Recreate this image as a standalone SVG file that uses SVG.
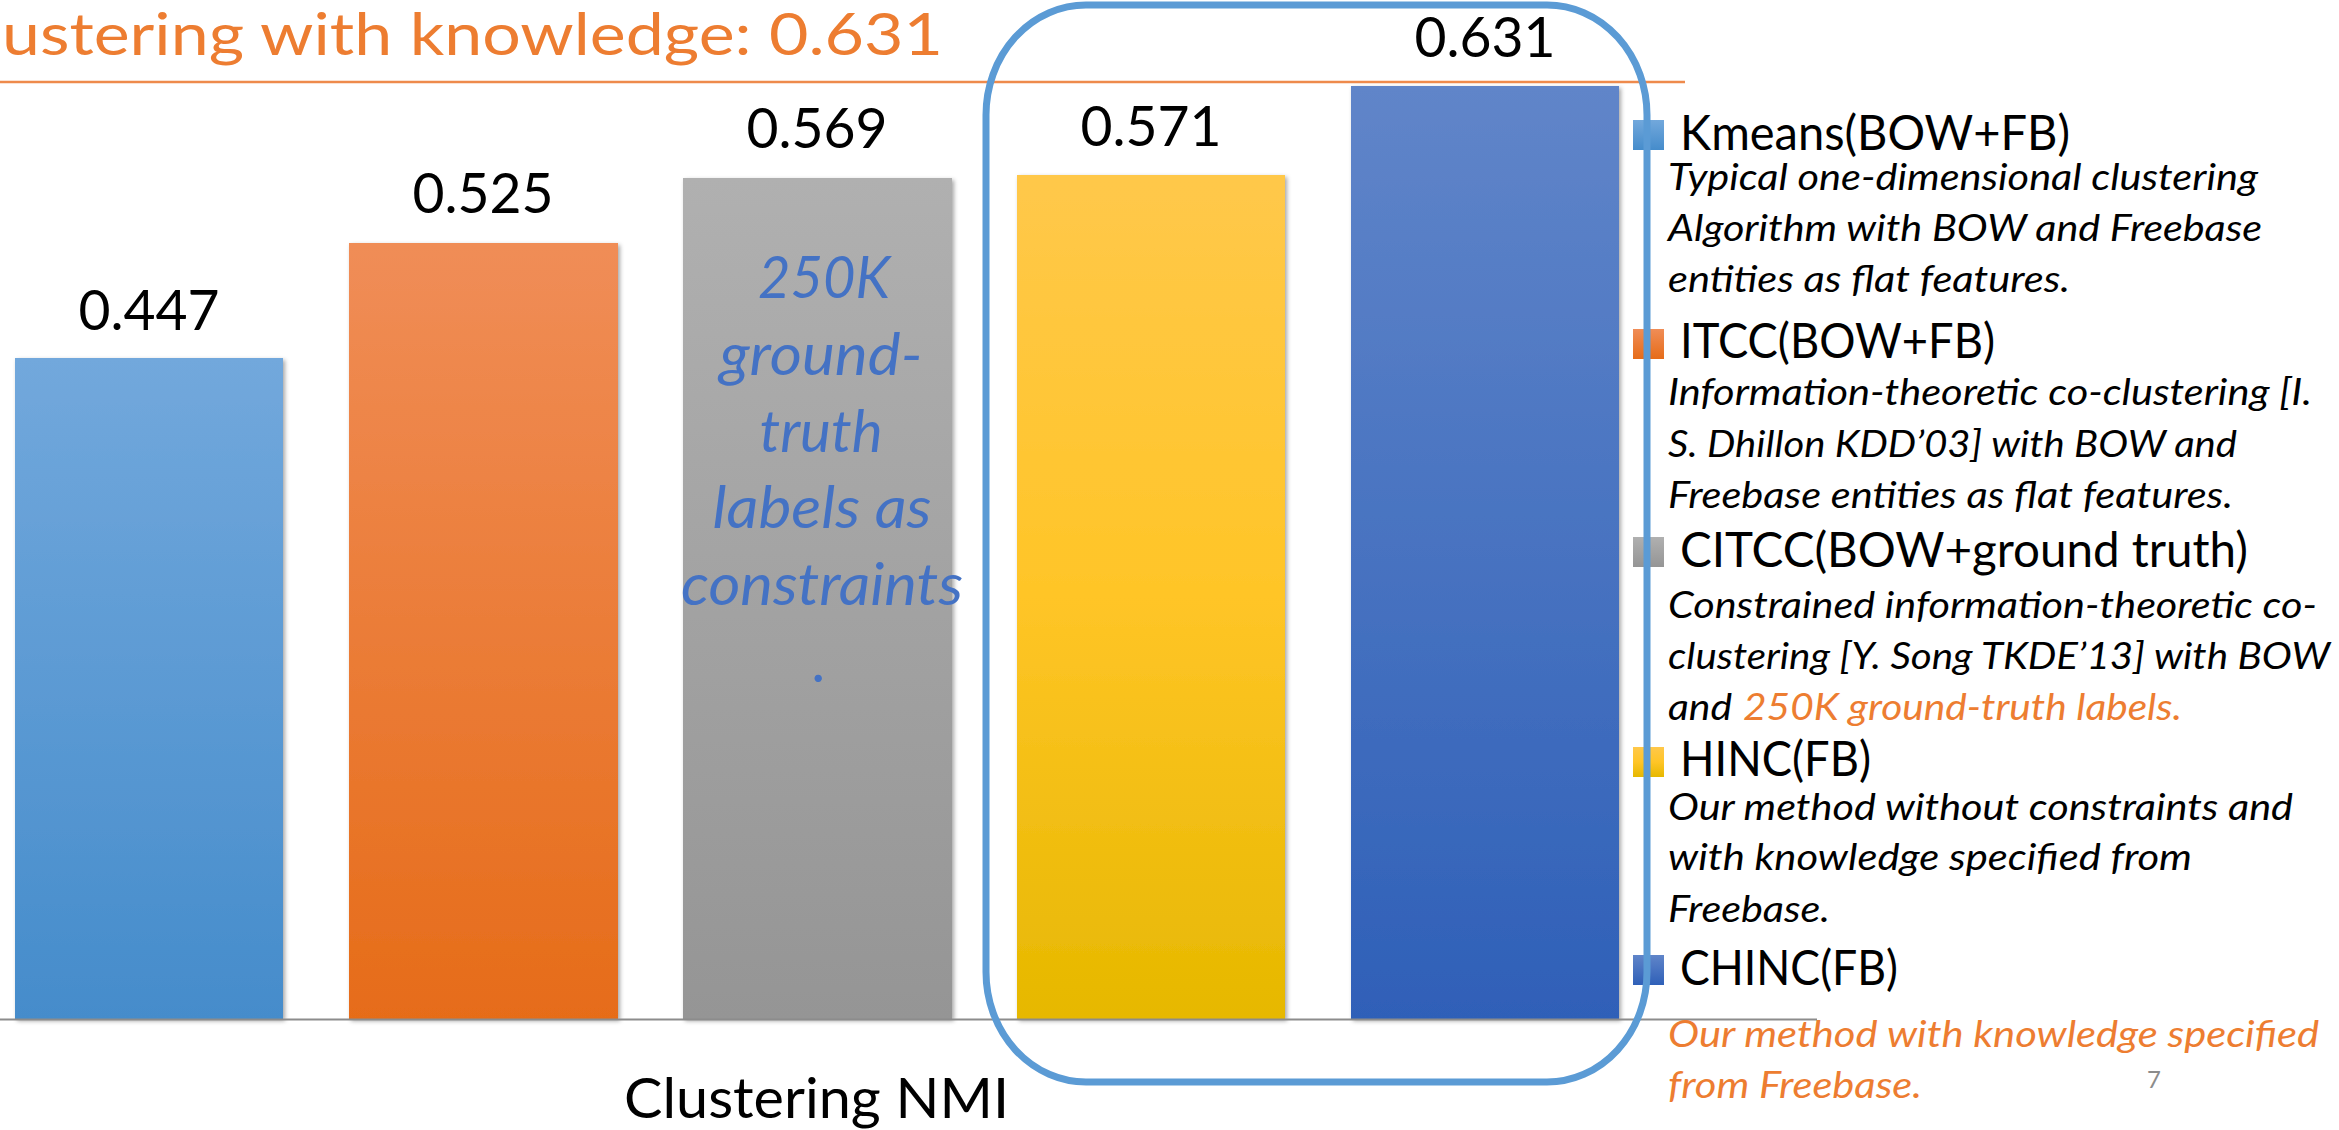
<svg xmlns="http://www.w3.org/2000/svg" width="2339" height="1130" viewBox="0 0 2339 1130">
  <defs>
    <linearGradient id="gBlue" x1="0" y1="0" x2="0" y2="1">
      <stop offset="0" stop-color="#72A8DC"/>
      <stop offset="1" stop-color="#458CCB"/>
    </linearGradient>
    <linearGradient id="gOrange" x1="0" y1="0" x2="0" y2="1">
      <stop offset="0" stop-color="#F08D57"/>
      <stop offset="1" stop-color="#E66C19"/>
    </linearGradient>
    <linearGradient id="gGray" x1="0" y1="0" x2="0" y2="1">
      <stop offset="0" stop-color="#B0B0B0"/>
      <stop offset="1" stop-color="#959595"/>
    </linearGradient>
    <linearGradient id="gYellow" x1="0" y1="0" x2="0" y2="1">
      <stop offset="0" stop-color="#FFC84A"/>
      <stop offset="0.5" stop-color="#FFC527"/>
      <stop offset="1" stop-color="#E6B800"/>
    </linearGradient>
    <linearGradient id="gNavy" x1="0" y1="0" x2="0" y2="1">
      <stop offset="0" stop-color="#6085C9"/>
      <stop offset="1" stop-color="#2F60B8"/>
    </linearGradient>
    <filter id="shadow" x="-5%" y="-5%" width="115%" height="115%">
      <feDropShadow dx="2" dy="2" stdDeviation="2" flood-color="#000" flood-opacity="0.35"/>
    </filter>
  </defs>
  <style>
    text { font-family: Lato, "Open Sans", "Liberation Sans", sans-serif; }
    .title { font-size: 59px; fill: #ED7D31; }
    .val { font-size: 56px; fill: #000; text-anchor: middle; }
    .inbar { font-size: 59px; fill: #4472C4; font-style: italic; text-anchor: middle; }
    .axis-title { font-size: 56px; fill: #000; }
    .lab { font-size: 48px; fill: #000; }
    .desc { font-size: 36px; fill: #000; font-style: italic; }
    .hl { fill: #ED7D31; }
    .page { font-size: 24px; fill: #8C8C8C; }
    .bar { filter: url(#shadow); }
  </style>

  <rect x="0" y="0" width="2339" height="1130" fill="#FFFFFF"/>

  <!-- heading and rule -->
  <g id="heading">
    <text class="title" x="2" y="55" textLength="941" lengthAdjust="spacingAndGlyphs">ustering with knowledge: 0.631</text>
    <line x1="0" y1="82" x2="1685" y2="82" stroke="#EE8A4C" stroke-width="2.5"/>
  </g>

  <!-- bars -->
  <g id="bar-kmeans">
    <rect class="bar" x="15" y="358" width="268" height="661" fill="url(#gBlue)"/>
    <text class="val" x="149" y="330" textLength="141" lengthAdjust="spacingAndGlyphs">0.447</text>
  </g>
  <g id="bar-itcc">
    <rect class="bar" x="349" y="243" width="269" height="776" fill="url(#gOrange)"/>
    <text class="val" x="483" y="213" textLength="141" lengthAdjust="spacingAndGlyphs">0.525</text>
  </g>
  <g id="bar-citcc">
    <rect class="bar" x="683" y="178" width="269" height="841" fill="url(#gGray)"/>
    <text class="val" x="817" y="148" textLength="141" lengthAdjust="spacingAndGlyphs">0.569</text>
    <text class="inbar" x="824" y="298" textLength="132" lengthAdjust="spacingAndGlyphs">250K</text>
    <text class="inbar" x="821" y="375" textLength="203" lengthAdjust="spacingAndGlyphs">ground-</text>
    <text class="inbar" x="821" y="452" textLength="123" lengthAdjust="spacingAndGlyphs">truth</text>
    <text class="inbar" x="822" y="528" textLength="219" lengthAdjust="spacingAndGlyphs">labels as</text>
    <text class="inbar" x="822" y="605" textLength="282" lengthAdjust="spacingAndGlyphs">constraints</text>
    <text class="inbar" x="820" y="682">.</text>
  </g>
  <g id="bar-hinc">
    <rect class="bar" x="1017" y="175" width="268" height="844" fill="url(#gYellow)"/>
    <text class="val" x="1151" y="146" textLength="141" lengthAdjust="spacingAndGlyphs">0.571</text>
  </g>
  <g id="bar-chinc">
    <rect class="bar" x="1351" y="86" width="268" height="933" fill="url(#gNavy)"/>
    <text class="val" x="1485" y="57" textLength="141" lengthAdjust="spacingAndGlyphs">0.631</text>
  </g>

  <!-- category axis -->
  <g id="axis">
    <line x1="0" y1="1019.5" x2="1817" y2="1019.5" stroke="#8C8C8C" stroke-width="2"/>
    <text class="axis-title" x="624" y="1118" textLength="385" lengthAdjust="spacingAndGlyphs">Clustering NMI</text>
  </g>

  <!-- legend -->
  <g id="legend-kmeans">
    <rect x="1633" y="120" width="31" height="30" fill="url(#gBlue)"/>
    <text class="lab" x="1680" y="150" textLength="390" lengthAdjust="spacingAndGlyphs">Kmeans(BOW+FB)</text>
    <text class="desc" x="1668" y="190" textLength="590" lengthAdjust="spacingAndGlyphs">Typical one-dimensional clustering</text>
    <text class="desc" x="1668" y="241" textLength="594" lengthAdjust="spacingAndGlyphs">Algorithm with BOW and Freebase</text>
    <text class="desc" x="1668" y="292" textLength="402" lengthAdjust="spacingAndGlyphs">entities as flat features.</text>
  </g>
  <g id="legend-itcc">
    <rect x="1633" y="329" width="31" height="30" fill="url(#gOrange)"/>
    <text class="lab" x="1680" y="358" textLength="315" lengthAdjust="spacingAndGlyphs">ITCC(BOW+FB)</text>
    <text class="desc" x="1668" y="405" textLength="644" lengthAdjust="spacingAndGlyphs">Information-theoretic co-clustering [I.</text>
    <text class="desc" x="1668" y="457" textLength="569" lengthAdjust="spacingAndGlyphs">S. Dhillon KDD’03] with BOW and</text>
    <text class="desc" x="1668" y="508" textLength="565" lengthAdjust="spacingAndGlyphs">Freebase entities as flat features.</text>
  </g>
  <g id="legend-citcc">
    <rect x="1633" y="537" width="31" height="30" fill="url(#gGray)"/>
    <text class="lab" x="1680" y="567" textLength="568" lengthAdjust="spacingAndGlyphs">CITCC(BOW+ground truth)</text>
    <text class="desc" x="1668" y="618" textLength="649" lengthAdjust="spacingAndGlyphs">Constrained information-theoretic co-</text>
    <text class="desc" x="1668" y="669" textLength="662" lengthAdjust="spacingAndGlyphs">clustering [Y. Song TKDE’13] with BOW</text>
    <text class="desc" x="1668" y="720" textLength="64" lengthAdjust="spacingAndGlyphs">and</text>
    <text class="desc hl" x="1743" y="720" textLength="439" lengthAdjust="spacingAndGlyphs">250K ground-truth labels.</text>
  </g>
  <g id="legend-hinc">
    <rect x="1633" y="747" width="31" height="30" fill="url(#gYellow)"/>
    <text class="lab" x="1680" y="776" textLength="191" lengthAdjust="spacingAndGlyphs">HINC(FB)</text>
    <text class="desc" x="1668" y="820" textLength="625" lengthAdjust="spacingAndGlyphs">Our method without constraints and</text>
    <text class="desc" x="1668" y="870" textLength="524" lengthAdjust="spacingAndGlyphs">with knowledge specified from</text>
    <text class="desc" x="1668" y="922" textLength="162" lengthAdjust="spacingAndGlyphs">Freebase.</text>
  </g>
  <g id="legend-chinc">
    <rect x="1633" y="955" width="31" height="30" fill="url(#gNavy)"/>
    <text class="lab" x="1680" y="985" textLength="218" lengthAdjust="spacingAndGlyphs">CHINC(FB)</text>
    <text class="desc hl" x="1668" y="1047" textLength="651" lengthAdjust="spacingAndGlyphs">Our method with knowledge specified</text>
    <text class="desc hl" x="1668" y="1098" textLength="254" lengthAdjust="spacingAndGlyphs">from Freebase.</text>
  </g>

  <!-- highlight frame around the two proposed methods -->
  <g id="highlight">
    <path d="M 1086 5 H 1547 A 100 110 0 0 1 1647 115 V 972 A 100 110 0 0 1 1547 1082 H 1086 A 100 110 0 0 1 986 972 V 115 A 100 110 0 0 1 1086 5 Z" fill="none" stroke="#5B9BD5" stroke-width="7"/>
  </g>

  <g id="page-number">
    <text class="page" x="2147" y="1088">7</text>
  </g>
</svg>
